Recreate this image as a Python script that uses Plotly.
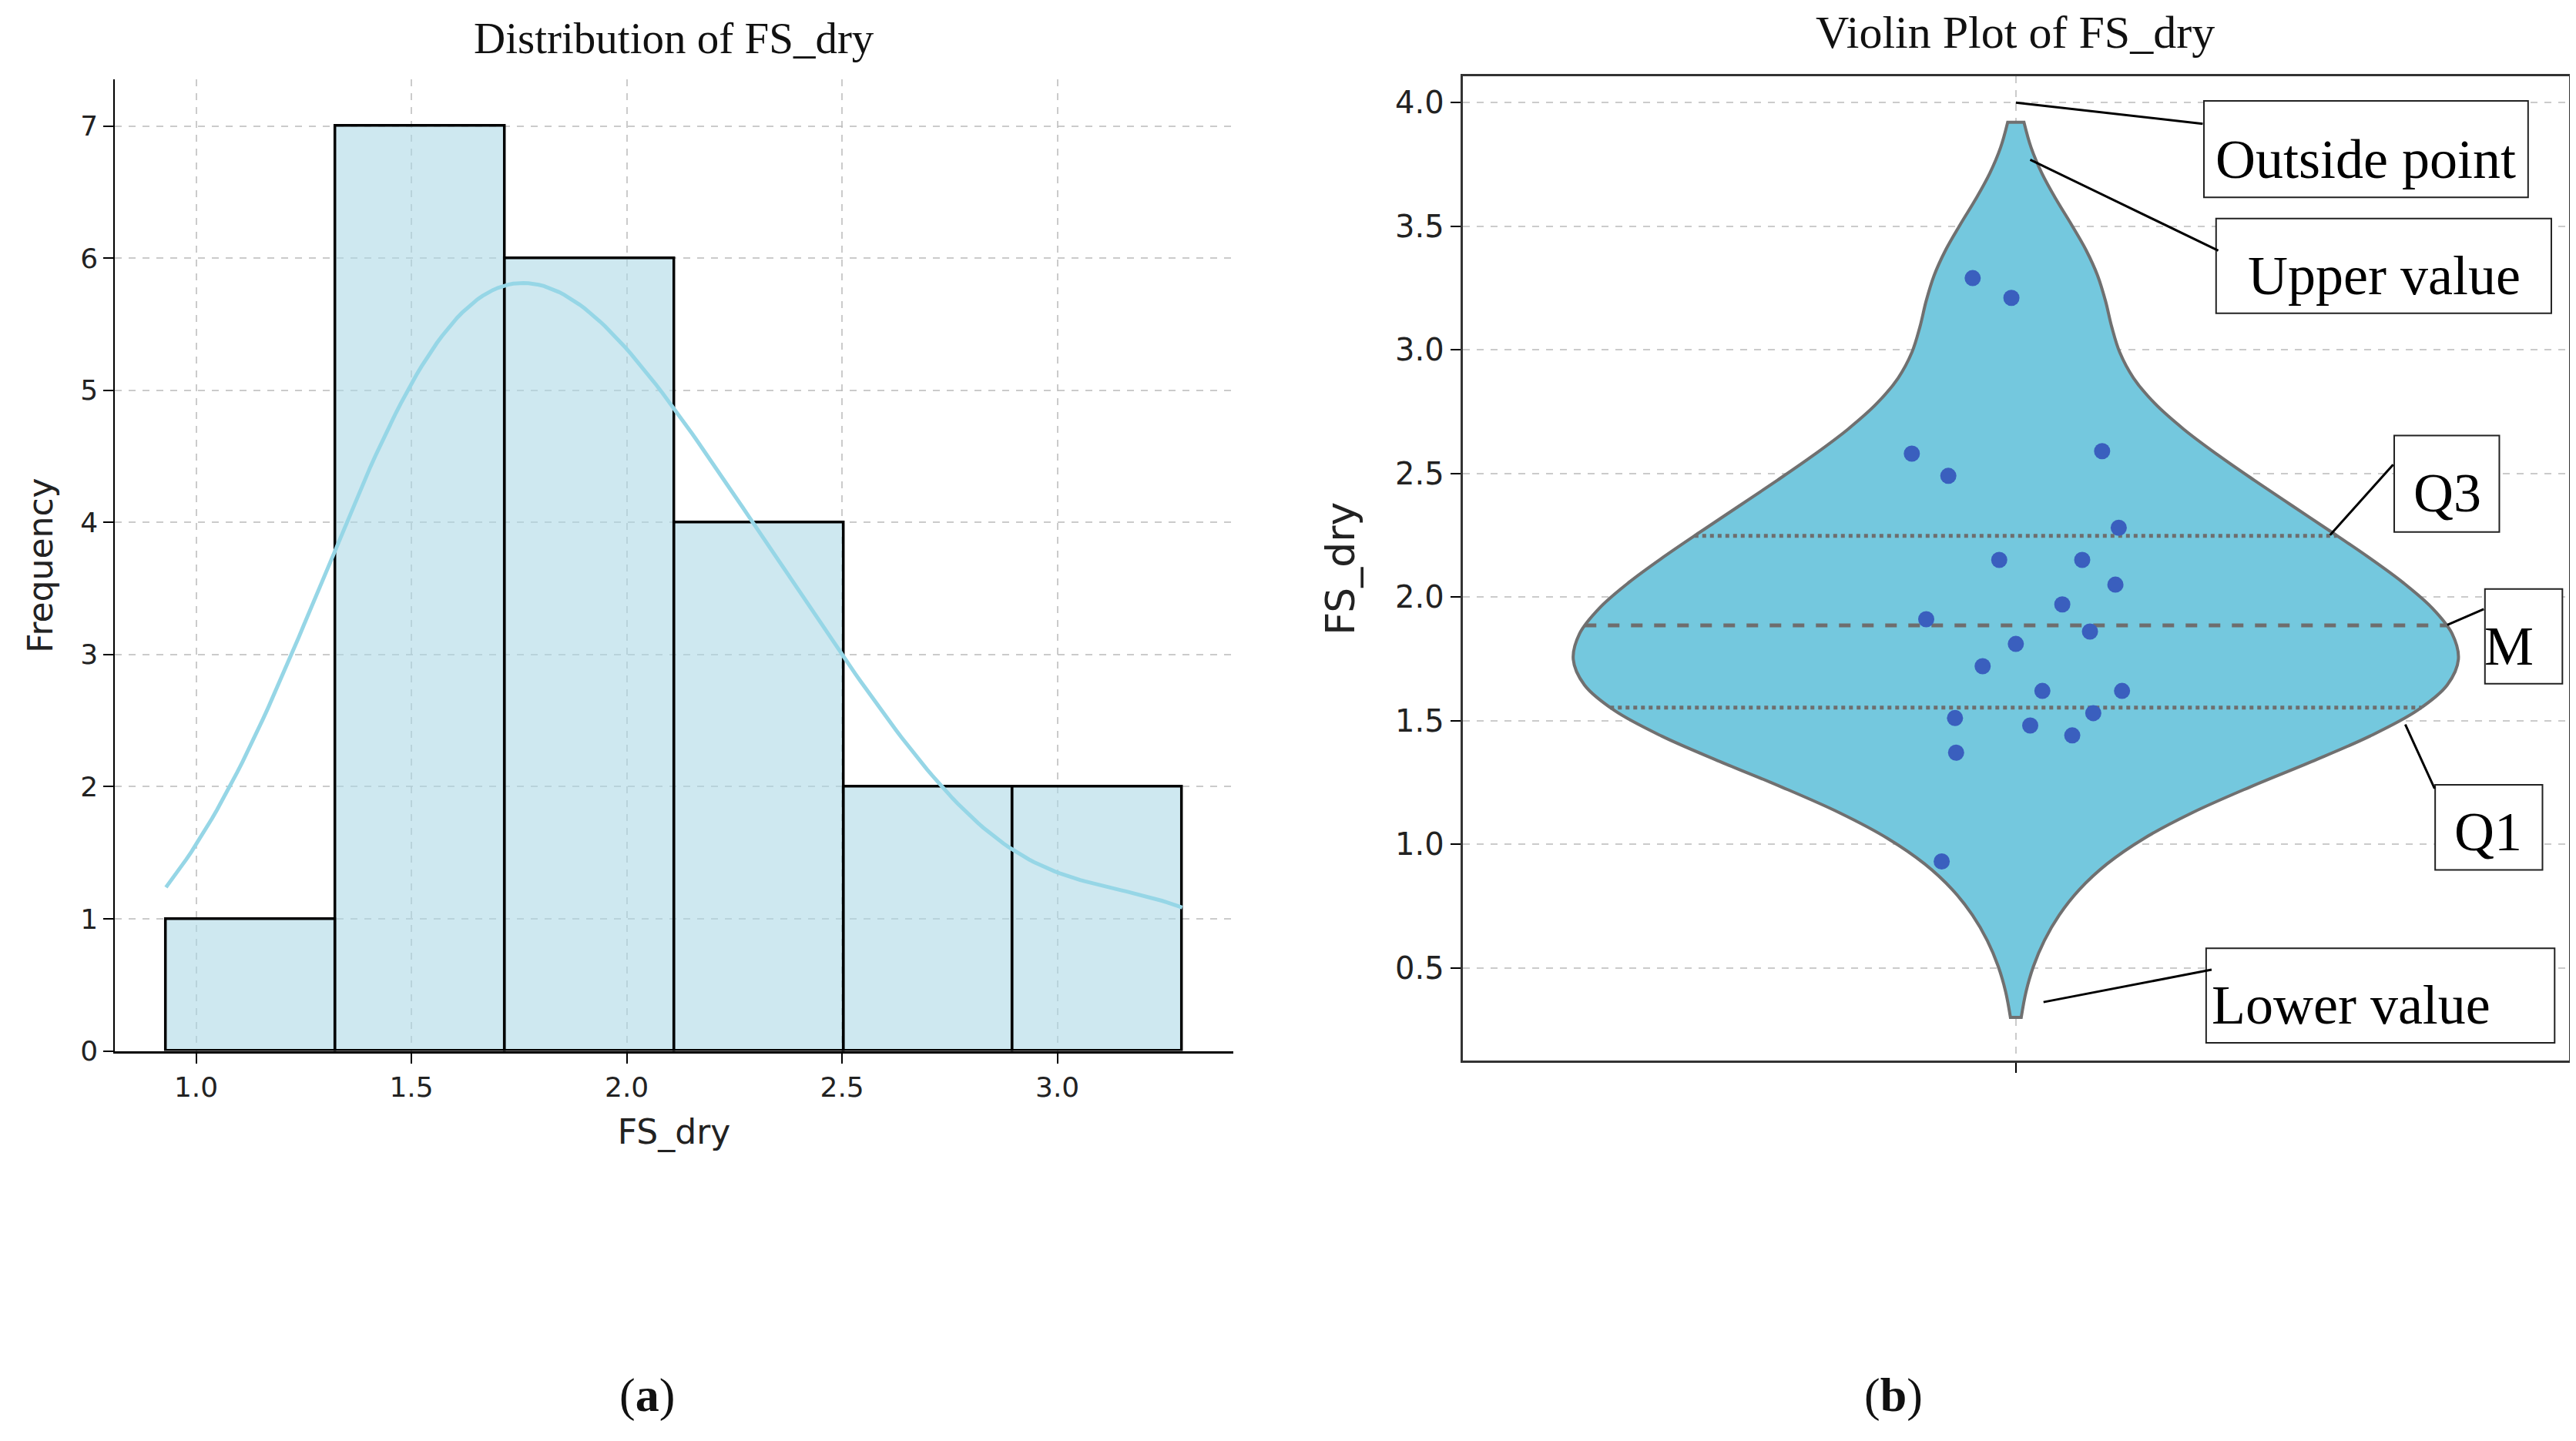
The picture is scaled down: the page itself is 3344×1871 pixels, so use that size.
import numpy as np
import plotly.graph_objects as go

# FS_dry 样本值
fs_dry = [3.29, 3.21, 2.58, 2.49, 2.59, 2.28, 2.15, 2.15, 2.05, 1.97, 1.91,
          1.86, 1.81, 1.72, 1.62, 1.62, 1.53, 1.51, 1.48, 1.44, 1.37, 0.93]
# 小提琴图上散点的水平抖动位置
jitter = [-0.039, -0.004, -0.094, -0.061, 0.078, 0.093, -0.015, 0.060, 0.090,
          0.042, -0.081, 0.067, 0.0, -0.030, 0.024, 0.096, 0.070, -0.055,
          0.013, 0.051, -0.054, -0.067]
n_bins = 6
hist_xticks = [1.0, 1.5, 2.0, 2.5, 3.0]
violin_yticks = [0.5, 1.0, 1.5, 2.0, 2.5, 3.0, 3.5, 4.0]

data = np.array(fs_dry)
n = len(data)

# 直方图计数
counts, edges = np.histogram(data, bins=n_bins)
bin_w = edges[1] - edges[0]
centers = (edges[:-1] + edges[1:]) / 2

# KDE (scott)
bw = data.std(ddof=1) * n ** (-1 / 5)


def kde(x):
    x = np.asarray(x)[:, None]
    return np.exp(-0.5 * ((x - data[None, :]) / bw) ** 2).sum(axis=1) / (n * bw * np.sqrt(2 * np.pi))


kde_x = np.linspace(data.min(), data.max(), 200)
kde_y = kde(kde_x) * n * bin_w

# 小提琴的四分位线
grid = np.linspace(data.min() - 2 * bw, data.max() + 2 * bw, 400)
dens_max = kde(grid).max()
violin_w = 0.8
q1, med, q3 = np.percentile(data, [25, 50, 75])

fig = go.Figure()

fig.add_trace(go.Bar(
    x=centers, y=counts, width=bin_w,
    marker=dict(color='rgba(173,216,230,0.6)', line=dict(color='black', width=3.5)),
    xaxis='x', yaxis='y', showlegend=False
))
fig.add_trace(go.Scatter(
    x=kde_x, y=kde_y, mode='lines',
    line=dict(color='rgb(150,214,230)', width=5),
    xaxis='x', yaxis='y', showlegend=False
))

fig.add_trace(go.Violin(
    y=data, x0=0, width=violin_w, bandwidth=bw, spanmode='soft',
    points=False, box_visible=False, meanline_visible=False,
    fillcolor='rgb(116,200,222)', opacity=1,
    line=dict(color='rgb(112,112,112)', width=4),
    xaxis='x2', yaxis='y2', showlegend=False, hoverinfo='skip'
))

for q, dash in [(q1, 'dot'), (med, 'dash'), (q3, 'dot')]:
    hw = violin_w / 2 * kde([q])[0] / dens_max
    fig.add_trace(go.Scatter(
        x=[-hw, hw], y=[q, q], mode='lines',
        line=dict(color='rgb(110,110,110)', width=5, dash=dash),
        xaxis='x2', yaxis='y2', showlegend=False, hoverinfo='skip'
    ))

fig.add_trace(go.Scatter(
    x=jitter, y=data, mode='markers',
    marker=dict(color='rgb(58,95,190)', size=21),
    xaxis='x2', yaxis='y2', showlegend=False
))

grid_style = dict(showgrid=True, gridcolor='rgba(185,185,185,0.75)', gridwidth=2,
                  griddash='dash', zeroline=False, ticks='outside', ticklen=13,
                  tickwidth=2, tickcolor='black')

fig.update_layout(
    width=3344, height=1871,
    margin=dict(l=0, r=0, t=0, b=0),
    plot_bgcolor='white', paper_bgcolor='white',
    font=dict(family='DejaVu Sans', color='#222'),
    bargap=0,
    xaxis=dict(domain=[0.0423, 0.4763], range=[0.812, 3.408], anchor='y',
               tickvals=hist_xticks, ticktext=[f'{v:.1f}' for v in hist_xticks],
               tickfont=dict(size=36), showline=True, linecolor='black', linewidth=3,
               title=dict(text='FS_dry', font=dict(size=44), standoff=24), **grid_style),
    yaxis=dict(domain=[0.2667, 0.9484], range=[0, 7.35], anchor='x', dtick=1,
               tickfont=dict(size=36), showline=True, linecolor='black', linewidth=2,
               title=dict(text='Frequency', font=dict(size=44), standoff=22), **grid_style),
    xaxis2=dict(domain=[0.5654, 0.9949], range=[-0.5, 0.5], anchor='y2', type='linear',
                tickvals=[0], ticktext=[''], showline=True, mirror=True,
                linecolor='#333', linewidth=3, **grid_style),
    yaxis2=dict(domain=[0.2599, 0.9507], range=[0.124, 4.106], anchor='x2',
                tickvals=violin_yticks, ticktext=[f'{v:.1f}' for v in violin_yticks],
                tickfont=dict(size=40), showline=True, mirror=True,
                linecolor='#333', linewidth=3,
                title=dict(text='FS_dry', font=dict(size=52), standoff=36), **grid_style),
)

serif = 'Liberation Serif'

# 标题和子图标签
titles = [
    ('Distribution of FS_dry', 0.2594, 0.9775, 57),
    ('Violin Plot of FS_dry', 0.7799, 0.9818, 60),
    ('(<b>a</b>)', 0.2488, 0.0251, 62),
    ('(<b>b</b>)', 0.7327, 0.0251, 62),
]
for text, tx, ty, size in titles:
    fig.add_annotation(text=text, xref='paper', yref='paper', x=tx, y=ty,
                       xanchor='center', yanchor='middle', showarrow=False,
                       font=dict(family=serif, size=size, color='#111'))

# 说明框: (文字, 框 x0, x1, y0, y1, 文字中心 x, y, 指向点, 线起点)
callouts = [
    ('Outside point', 0.170, 0.463, 3.617, 4.007, 0.316, 3.77, (0.0, 4.0), (0.170, 3.914)),
    ('Upper value', 0.181, 0.484, 3.148, 3.531, 0.333, 3.30, (0.013, 3.769), (0.184, 3.399)),
    ('Q3', 0.342, 0.437, 2.263, 2.653, 0.390, 2.42, (0.284, 2.25), (0.342, 2.54)),
    ('M', 0.424, 0.494, 1.649, 2.032, 0.446, 1.80, (0.390, 1.887), (0.424, 1.953)),
    ('Q1', 0.379, 0.476, 0.896, 1.240, 0.427, 1.05, (0.352, 1.484), (0.379, 1.22)),
    ('Lower value', 0.172, 0.487, 0.196, 0.579, 0.303, 0.348, (0.025, 0.361), (0.178, 0.493)),
]
for label, bx0, bx1, by0, by1, tx, ty, tip, tail in callouts:
    fig.add_shape(type='rect', xref='x2', yref='y2', x0=bx0, x1=bx1, y0=by0, y1=by1,
                  line=dict(color='#222', width=2), fillcolor='white', layer='above')
    fig.add_annotation(text=label, xref='x2', yref='y2', x=tx, y=ty, showarrow=False,
                       xanchor='center', yanchor='middle',
                       font=dict(family=serif, size=72, color='black'))
    fig.add_annotation(text='', xref='x2', yref='y2', x=tip[0], y=tip[1],
                       axref='x2', ayref='y2', ax=tail[0], ay=tail[1],
                       showarrow=True, arrowhead=0, arrowwidth=3, arrowcolor='black',
                       standoff=0, startstandoff=0)

fig.write_html("out.html")
